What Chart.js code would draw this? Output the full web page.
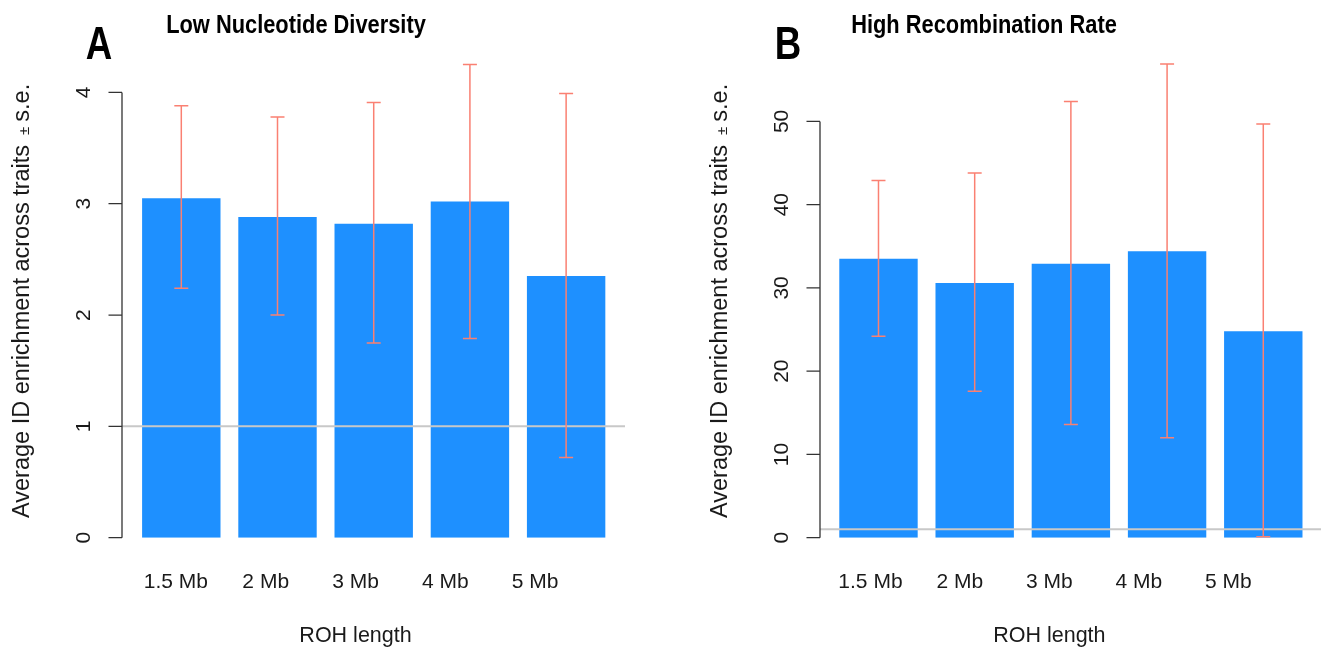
<!DOCTYPE html>
<html>
<head>
<meta charset="utf-8">
<script src="https://cdn.jsdelivr.net/npm/chart.js@4/dist/chart.umd.min.js"></script>
<style>
  body { margin: 0; background: #fff; }
  canvas { position: absolute; top: 0; }
</style>
</head>
<body>
<canvas id="chartLowDiv" width="660" height="653" style="left:0"></canvas>
<canvas id="chartHighRec" width="623" height="653" style="left:698px"></canvas>
<script>
// ROH length categories
const rohLengths = ['1.5 Mb', '2 Mb', '3 Mb', '4 Mb', '5 Mb'];

// A: Low Nucleotide Diversity (mean, lower/upper = mean -/+ s.e.)
const lowDivMean = [3.05, 2.88, 2.82, 3.02, 2.35];
const lowDivLower = [2.24, 2.00, 1.75, 1.79, 0.72];
const lowDivUpper = [3.88, 3.78, 3.91, 4.25, 3.99];
const lowDivTicks = [0, 1, 2, 3, 4];

// B: High Recombination Rate
const highRecMean = [33.5, 30.6, 32.9, 34.4, 24.8];
const highRecLower = [24.2, 17.6, 13.6, 12.0, 0.1];
const highRecUpper = [42.9, 43.8, 52.4, 56.9, 49.7];
const highRecTicks = [0, 10, 20, 30, 40, 50];

const refLine = 1;
const yTitle = 'Average ID enrichment across traits';
const xTitle = 'ROH length';

const FONT = '"Liberation Sans", Arial, Helvetica, sans-serif';

// condensed bold text (no narrow face installed, so squeeze it)
function narrowText(ctx, text, x, y, size, squeeze) {
  ctx.save();
  ctx.font = 'bold ' + size + 'px ' + FONT;
  ctx.translate(x, y);
  ctx.scale(squeeze, 1);
  ctx.textAlign = 'center';
  ctx.fillText(text, 0, 0);
  ctx.restore();
}

// error bars, reference line, R-style y axis and titles
function decor(o) {
  return {
    id: 'decor',
    afterDatasetsDraw(chart) {
      const { ctx, chartArea: a, scales: { x, y } } = chart;
      ctx.save();
      ctx.strokeStyle = '#c8c8c8';
      ctx.lineWidth = 2;
      const yr = y.getPixelForValue(refLine);
      ctx.beginPath();
      ctx.moveTo(a.left, yr);
      ctx.lineTo(a.right, yr);
      ctx.stroke();

      ctx.strokeStyle = '#fa8072';
      ctx.lineWidth = 1.5;
      o.lower.forEach((lo, i) => {
        const px = x.getPixelForValue(i + 1);
        const y1 = y.getPixelForValue(lo);
        const y2 = y.getPixelForValue(o.upper[i]);
        ctx.beginPath();
        ctx.moveTo(px, y1); ctx.lineTo(px, y2);
        ctx.moveTo(px - 7, y1); ctx.lineTo(px + 7, y1);
        ctx.moveTo(px - 7, y2); ctx.lineTo(px + 7, y2);
        ctx.stroke();
      });
      ctx.restore();
    },
    afterDraw(chart) {
      const { ctx, chartArea: a, scales: { y, xl } } = chart;
      ctx.save();
      // y axis line only over the tick range
      const vals = y.ticks.map(t => t.value);
      const yTop = y.getPixelForValue(vals[vals.length - 1]);
      const yBot = y.getPixelForValue(vals[0]);
      ctx.strokeStyle = '#333';
      ctx.lineWidth = 1.3;
      ctx.beginPath();
      ctx.moveTo(a.left, yTop);
      ctx.lineTo(a.left, yBot);
      vals.forEach(v => {
        const py = y.getPixelForValue(v);
        ctx.moveTo(a.left - 13.5, py);
        ctx.lineTo(a.left, py);
      });
      ctx.stroke();

      // rotated tick labels
      ctx.fillStyle = '#1a1a1a';
      ctx.font = '21px ' + FONT;
      ctx.textAlign = 'center';
      ctx.textBaseline = 'alphabetic';
      vals.forEach(v => {
        ctx.save();
        ctx.translate(a.left - 32.5, y.getPixelForValue(v));
        ctx.rotate(-Math.PI / 2);
        ctx.fillText(String(v), 0, 0);
        ctx.restore();
      });

      // y axis title with small ±
      ctx.save();
      ctx.translate(29, 518);
      ctx.rotate(-Math.PI / 2);
      ctx.textAlign = 'left';
      ctx.font = '23.5px ' + FONT;
      ctx.fillText(yTitle, 0, 0);
      let w = ctx.measureText(yTitle).width + 10;
      ctx.font = '15px ' + FONT;
      ctx.fillText('±', w, 0);
      w += ctx.measureText('±').width + 5;
      ctx.font = '23.5px ' + FONT;
      ctx.fillText('s.e.', w, 0);
      ctx.restore();

      // x axis title under the middle label
      ctx.textAlign = 'center';
      ctx.font = '21.5px ' + FONT;
      ctx.fillText(xTitle, xl.getPixelForValue(3), 642);

      // panel title and letter
      ctx.fillStyle = '#000';
      narrowText(ctx, o.title, o.titleX, 32.5, 26, 0.84);
      narrowText(ctx, o.letter, o.letterX, 59, 47, 0.78);
      ctx.restore();
    }
  };
}

function makePanel(id, o) {
  new Chart(document.getElementById(id), {
    type: 'bar',
    data: {
      datasets: [{
        data: o.mean.map((v, i) => ({ x: i + 1, y: v })),
        backgroundColor: '#1e90ff',
        borderWidth: 0,
        categoryPercentage: 0.815,
        barPercentage: 1
      }]
    },
    options: {
      responsive: false,
      animation: false,
      events: [],
      layout: { padding: { top: 59, right: o.padRight, left: 0, bottom: 0 } },
      plugins: { legend: { display: false }, tooltip: { enabled: false } },
      scales: {
        x: {
          type: 'linear',
          display: false,
          offset: false,
          min: o.xMin,
          max: o.xMax,
          afterBuildTicks: s => { s.ticks = rohLengths.map((_, i) => ({ value: i + 1 })); }
        },
        xl: {
          type: 'linear',
          position: 'bottom',
          offset: false,
          min: o.lMin,
          max: o.lMin + 5.6,
          grid: { display: false, offset: false },
          border: { display: false },
          afterBuildTicks: s => { s.ticks = rohLengths.map((_, i) => ({ value: i + 1 })); },
          afterFit: s => { s.height = 115.3; },
          ticks: {
            autoSkip: false,
            maxRotation: 0,
            padding: 24,
            color: '#1a1a1a',
            font: { family: FONT, size: 21 },
            callback: (v, i) => rohLengths[i]
          }
        },
        y: {
          min: 0,
          max: o.yMax,
          grid: { display: false },
          border: { display: false },
          ticks: { display: false },
          afterBuildTicks: s => { s.ticks = o.ticks.map(v => ({ value: v })); },
          afterFit: s => { s.width = 122; }
        }
      }
    },
    plugins: [decor(o)]
  });
}

makePanel('chartLowDiv', {
  mean: lowDivMean, lower: lowDivLower, upper: lowDivUpper, ticks: lowDivTicks,
  yMax: 4.3, xMin: 0.3836, xMax: 5.612, lMin: 0.4, padRight: 35,
  title: 'Low Nucleotide Diversity', titleX: 296, letter: 'A', letterX: 99
});

makePanel('chartHighRec', {
  mean: highRecMean, lower: highRecLower, upper: highRecUpper, ticks: highRecTicks,
  yMax: 57.5, xMin: 0.392, xMax: 5.60, lMin: 0.436, padRight: 0,
  title: 'High Recombination Rate', titleX: 286, letter: 'B', letterX: 90
});
</script>
</body>
</html>
